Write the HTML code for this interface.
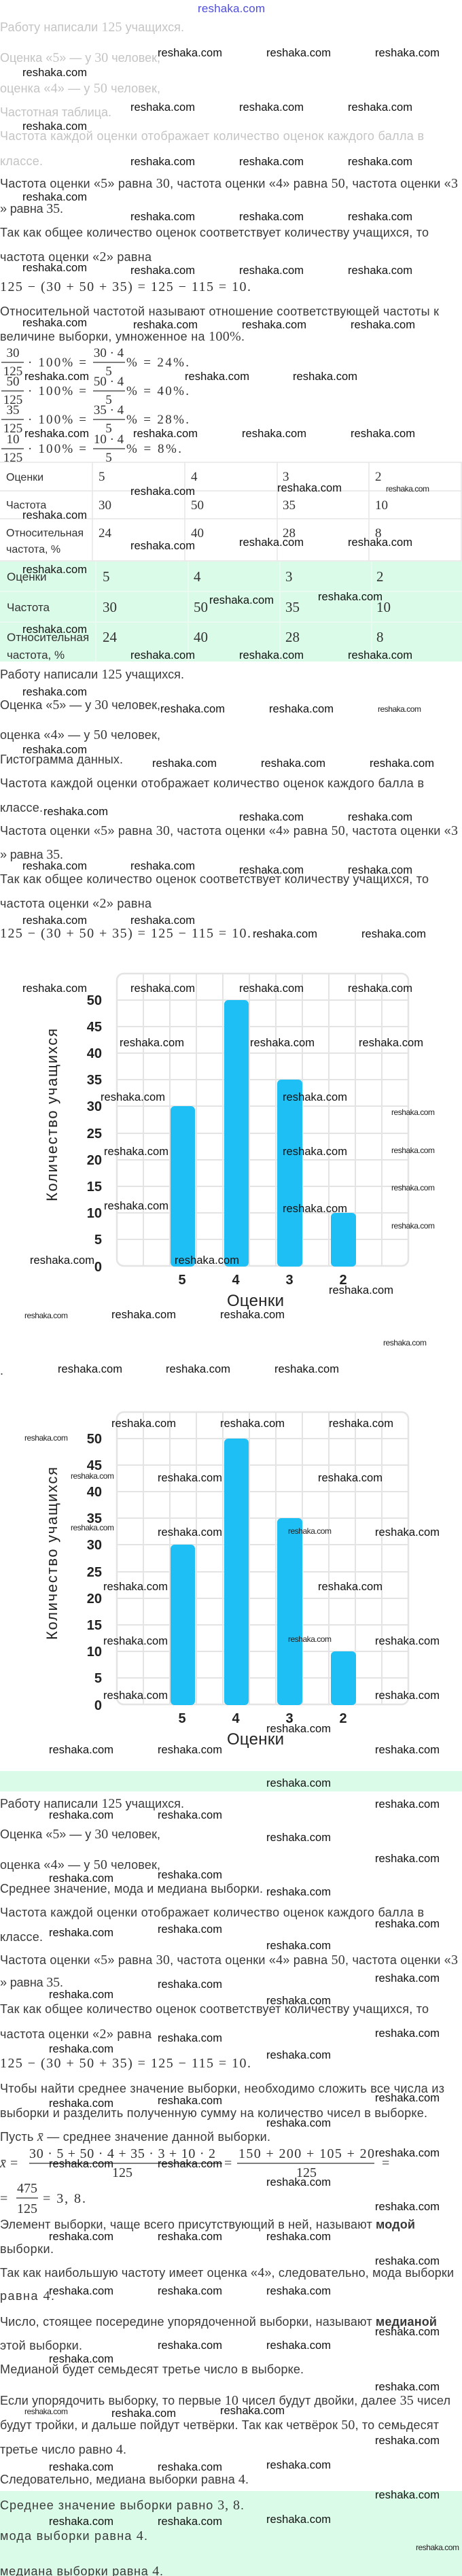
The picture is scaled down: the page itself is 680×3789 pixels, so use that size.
<!DOCTYPE html>
<html lang="ru"><head><meta charset="utf-8"><title>reshaka</title>
<style>
html,body{margin:0;padding:0;background:#fff;}
svg{display:block;}
text{font-family:"Liberation Sans","DejaVu Sans",sans-serif;}
.t{font-size:18px;fill:#3a3a3a;}
.g{fill:#c4c4c4;}
.m{font-family:"Liberation Serif","DejaVu Serif",serif;font-size:20px;}
.mf{font-family:"Liberation Serif","DejaVu Serif",serif;font-size:19px;fill:#333;}
.w{font-size:16.5px;fill:#111;}
.s{font-size:12px;fill:#222;}
.tb{font-size:16px;fill:#333;}
.tb2{font-size:17px;fill:#333;}
.tv{font-family:"Liberation Serif",serif;font-size:19px;fill:#333;}
.tv2{font-family:"Liberation Serif",serif;font-size:21px;fill:#333;}
.yl{font-size:20px;font-weight:bold;fill:#222;}
.grid line{stroke:#e4e4e4;stroke-width:2;}
</style></head>
<body>
<svg width="680" height="3789" viewBox="0 0 680 3789" xmlns="http://www.w3.org/2000/svg">
<rect x="0" y="0" width="680" height="3789" fill="#fff"/>

<!-- header -->
<text x="291" y="18" textLength="99" style="font-size:17px;fill:#4f4fd9;">reshaka.com</text>

<!-- Section 1 text -->
<text class="t g" x="0" y="46" textLength="271">Работу написали <tspan class="m">125</tspan> учащихся.</text>
<text class="t g" x="0" y="91" textLength="236">Оценка «<tspan class="m">5</tspan>» — у <tspan class="m">30</tspan> человек,</text>
<text class="t g" x="0" y="136" textLength="236">оценка «<tspan class="m">4</tspan>» — у <tspan class="m">50</tspan> человек,</text>
<text class="t g" x="0" y="171" textLength="164">Частотная таблица.</text>
<text class="t g" x="0" y="206" textLength="624">Частота каждой оценки отображает количество оценок каждого балла в</text>
<text class="t g" x="0" y="243" textLength="63">классе.</text>
<text class="t" x="0" y="276" textLength="674">Частота оценки «<tspan class="m">5</tspan>» равна <tspan class="m">30</tspan>, частота оценки «<tspan class="m">4</tspan>» равна <tspan class="m">50</tspan>, частота оценки «<tspan class="m">3</tspan></text>
<text class="t" x="0" y="313" textLength="93">» равна <tspan class="m">35</tspan>.</text>
<text class="t" x="0" y="348" textLength="631">Так как общее количество оценок соответствует количеству учащихся, то</text>
<text class="t" x="0" y="384" textLength="223">частота оценки «<tspan class="m">2</tspan>» равна</text>
<text class="m" x="0" y="428" textLength="369" style="fill:#333">125 − (30 + 50 + 35) = 125 − 115 = 10.</text>
<text class="t" x="0" y="464" textLength="646">Относительной частотой называют отношение соответствующей частоты к</text>
<text class="t" x="0" y="501" textLength="360">величине выборки, умноженное на <tspan class="m">100%</tspan>.</text>

<!-- fractions -->
<g stroke="#333" stroke-width="1.2">
<line x1="2" y1="533" x2="35" y2="533"/><line x1="137" y1="533" x2="184" y2="533"/>
<line x1="2" y1="575" x2="35" y2="575"/><line x1="137" y1="575" x2="184" y2="575"/>
<line x1="2" y1="617" x2="35" y2="617"/><line x1="137" y1="617" x2="184" y2="617"/>
<line x1="2" y1="660" x2="35" y2="660"/><line x1="137" y1="660" x2="184" y2="660"/>
</g>
<g class="mf">
<text class="mf" x="19" y="525" text-anchor="middle">30</text>
<text class="mf" x="19" y="552" text-anchor="middle">125</text>
<text class="mf" x="41" y="539" textLength="86">· 100% =</text>
<text class="mf" x="160" y="525" text-anchor="middle">30 · 4</text>
<text class="mf" x="160" y="552" text-anchor="middle">5</text>
<text class="mf" x="186" y="539" textLength="92">% = 24%.</text>

<text class="mf" x="19" y="567" text-anchor="middle">50</text>
<text class="mf" x="19" y="594" text-anchor="middle">125</text>
<text class="mf" x="41" y="581" textLength="86">· 100% =</text>
<text class="mf" x="160" y="567" text-anchor="middle">50 · 4</text>
<text class="mf" x="160" y="594" text-anchor="middle">5</text>
<text class="mf" x="186" y="581" textLength="92">% = 40%.</text>

<text class="mf" x="19" y="609" text-anchor="middle">35</text>
<text class="mf" x="19" y="636" text-anchor="middle">125</text>
<text class="mf" x="41" y="623" textLength="86">· 100% =</text>
<text class="mf" x="160" y="609" text-anchor="middle">35 · 4</text>
<text class="mf" x="160" y="636" text-anchor="middle">5</text>
<text class="mf" x="186" y="623" textLength="92">% = 28%.</text>

<text class="mf" x="19" y="652" text-anchor="middle">10</text>
<text class="mf" x="19" y="679" text-anchor="middle">125</text>
<text class="mf" x="41" y="666" textLength="86">· 100% =</text>
<text class="mf" x="160" y="652" text-anchor="middle">10 · 4</text>
<text class="mf" x="160" y="679" text-anchor="middle">5</text>
<text class="mf" x="186" y="666" textLength="81">% = 8%.</text>
</g>

<!-- Table 1 -->
<g stroke="#e6e6e6" stroke-width="1.5">
<line x1="0" y1="680" x2="680" y2="680"/>
<line x1="0" y1="722" x2="680" y2="722"/>
<line x1="0" y1="763" x2="680" y2="763"/>
<line x1="0" y1="825" x2="680" y2="825"/>
<line x1="136" y1="680" x2="136" y2="825"/>
<line x1="272" y1="680" x2="272" y2="825"/>
<line x1="408" y1="680" x2="408" y2="825"/>
<line x1="543" y1="680" x2="543" y2="825"/>
<line x1="679" y1="680" x2="679" y2="825"/>
</g>
<text class="tb" x="9" y="707">Оценки</text>
<text class="tb" x="9" y="748">Частота</text>
<text class="tb" x="9" y="789">Относительная</text>
<text class="tb" x="9" y="813">частота, %</text>
<text class="tv" x="145" y="707">5</text><text class="tv" x="281" y="707">4</text><text class="tv" x="416" y="707">3</text><text class="tv" x="552" y="707">2</text>
<text class="tv" x="145" y="749">30</text><text class="tv" x="281" y="749">50</text><text class="tv" x="416" y="749">35</text><text class="tv" x="552" y="749">10</text>
<text class="tv" x="145" y="790">24</text><text class="tv" x="281" y="790">40</text><text class="tv" x="416" y="790">28</text><text class="tv" x="552" y="790">8</text>

<!-- Table 2 green -->
<rect x="0" y="826" width="680" height="147" fill="#dbfbe9"/>
<g stroke="#eef9f2" stroke-width="1.5">
<line x1="0" y1="870" x2="680" y2="870"/>
<line x1="0" y1="915" x2="680" y2="915"/>
<line x1="141" y1="826" x2="141" y2="973"/>
<line x1="277" y1="826" x2="277" y2="973"/>
<line x1="412" y1="826" x2="412" y2="973"/>
<line x1="547" y1="826" x2="547" y2="973"/>
</g>
<text class="tb2" x="10" y="854">Оценки</text>
<text class="tb2" x="10" y="899">Частота</text>
<text class="tb2" x="10" y="943">Относительная</text>
<text class="tb2" x="10" y="969">частота, %</text>
<text class="tv2" x="151" y="855">5</text><text class="tv2" x="285" y="855">4</text><text class="tv2" x="420" y="855">3</text><text class="tv2" x="554" y="855">2</text>
<text class="tv2" x="151" y="900">30</text><text class="tv2" x="285" y="900">50</text><text class="tv2" x="420" y="900">35</text><text class="tv2" x="554" y="900">10</text>
<text class="tv2" x="151" y="944">24</text><text class="tv2" x="285" y="944">40</text><text class="tv2" x="420" y="944">28</text><text class="tv2" x="554" y="944">8</text>

<!-- Section 2 text -->
<text class="t" x="0" y="998" textLength="271">Работу написали <tspan class="m">125</tspan> учащихся.</text>
<text class="t" x="0" y="1043" textLength="236">Оценка «<tspan class="m">5</tspan>» — у <tspan class="m">30</tspan> человек,</text>
<text class="t" x="0" y="1087" textLength="236">оценка «<tspan class="m">4</tspan>» — у <tspan class="m">50</tspan> человек,</text>
<text class="t" x="0" y="1123" textLength="181">Гистограмма данных.</text>
<text class="t" x="0" y="1158" textLength="624">Частота каждой оценки отображает количество оценок каждого балла в</text>
<text class="t" x="0" y="1194" textLength="63">классе.</text>
<text class="t" x="0" y="1228" textLength="674">Частота оценки «<tspan class="m">5</tspan>» равна <tspan class="m">30</tspan>, частота оценки «<tspan class="m">4</tspan>» равна <tspan class="m">50</tspan>, частота оценки «<tspan class="m">3</tspan></text>
<text class="t" x="0" y="1263" textLength="93">» равна <tspan class="m">35</tspan>.</text>
<text class="t" x="0" y="1299" textLength="631">Так как общее количество оценок соответствует количеству учащихся, то</text>
<text class="t" x="0" y="1335" textLength="223">частота оценки «<tspan class="m">2</tspan>» равна</text>
<text class="m" x="0" y="1379" textLength="369" style="fill:#333">125 − (30 + 50 + 35) = 125 − 115 = 10.</text>

<!-- Chart 1 -->
<g id="chart1">
<rect x="172" y="1432" width="429" height="430" rx="10" fill="#fff" stroke="#e4e4e4" stroke-width="2.5"/>
<g class="grid">
<line x1="211" y1="1432" x2="211" y2="1862"/><line x1="250" y1="1432" x2="250" y2="1862"/><line x1="289" y1="1432" x2="289" y2="1862"/><line x1="328" y1="1432" x2="328" y2="1862"/><line x1="367" y1="1432" x2="367" y2="1862"/><line x1="406" y1="1432" x2="406" y2="1862"/><line x1="445" y1="1432" x2="445" y2="1862"/><line x1="484" y1="1432" x2="484" y2="1862"/><line x1="523" y1="1432" x2="523" y2="1862"/><line x1="562" y1="1432" x2="562" y2="1862"/>
<line x1="172" y1="1823" x2="601" y2="1823"/><line x1="172" y1="1784" x2="601" y2="1784"/><line x1="172" y1="1745" x2="601" y2="1745"/><line x1="172" y1="1706" x2="601" y2="1706"/><line x1="172" y1="1667" x2="601" y2="1667"/><line x1="172" y1="1627" x2="601" y2="1627"/><line x1="172" y1="1588" x2="601" y2="1588"/><line x1="172" y1="1549" x2="601" y2="1549"/><line x1="172" y1="1510" x2="601" y2="1510"/><line x1="172" y1="1471" x2="601" y2="1471"/>
</g>
<rect x="251" y="1627" width="36" height="236" rx="6" fill="#1ebff5"/>
<rect x="330" y="1471" width="36" height="392" rx="6" fill="#1ebff5"/>
<rect x="408" y="1588" width="37" height="275" rx="6" fill="#1ebff5"/>
<rect x="487" y="1784" width="37" height="79" rx="6" fill="#1ebff5"/>
<g class="yl" text-anchor="end">
<text class="yl" x="150" y="1478" text-anchor="end">50</text>
<text class="yl" x="150" y="1517" text-anchor="end">45</text>
<text class="yl" x="150" y="1556" text-anchor="end">40</text>
<text class="yl" x="150" y="1595" text-anchor="end">35</text>
<text class="yl" x="150" y="1634" text-anchor="end">30</text>
<text class="yl" x="150" y="1674" text-anchor="end">25</text>
<text class="yl" x="150" y="1713" text-anchor="end">20</text>
<text class="yl" x="150" y="1752" text-anchor="end">15</text>
<text class="yl" x="150" y="1791" text-anchor="end">10</text>
<text class="yl" x="150" y="1830" text-anchor="end">5</text>
<text class="yl" x="150" y="1870" text-anchor="end">0</text>
</g>
<text class="yl" x="268" y="1889" text-anchor="middle">5</text>
<text class="yl" x="347" y="1889" text-anchor="middle">4</text>
<text class="yl" x="426" y="1889" text-anchor="middle">3</text>
<text class="yl" x="505" y="1889" text-anchor="middle">2</text>
<text x="334" y="1921" textLength="84" style="font-size:24px;fill:#222;">Оценки</text>
<text transform="translate(84,1640) rotate(-90)" x="-127" y="0" textLength="254" style="font-size:22px;fill:#222;">Количество учащихся</text>
</g>
<text class="t" x="0" y="2022">.</text>

<!-- Chart 2 -->
<g transform="translate(0,645)">
<rect x="172" y="1432" width="429" height="430" rx="10" fill="#fff" stroke="#e4e4e4" stroke-width="2.5"/>
<g class="grid">
<line x1="211" y1="1432" x2="211" y2="1862"/><line x1="250" y1="1432" x2="250" y2="1862"/><line x1="289" y1="1432" x2="289" y2="1862"/><line x1="328" y1="1432" x2="328" y2="1862"/><line x1="367" y1="1432" x2="367" y2="1862"/><line x1="406" y1="1432" x2="406" y2="1862"/><line x1="445" y1="1432" x2="445" y2="1862"/><line x1="484" y1="1432" x2="484" y2="1862"/><line x1="523" y1="1432" x2="523" y2="1862"/><line x1="562" y1="1432" x2="562" y2="1862"/>
<line x1="172" y1="1823" x2="601" y2="1823"/><line x1="172" y1="1784" x2="601" y2="1784"/><line x1="172" y1="1745" x2="601" y2="1745"/><line x1="172" y1="1706" x2="601" y2="1706"/><line x1="172" y1="1667" x2="601" y2="1667"/><line x1="172" y1="1627" x2="601" y2="1627"/><line x1="172" y1="1588" x2="601" y2="1588"/><line x1="172" y1="1549" x2="601" y2="1549"/><line x1="172" y1="1510" x2="601" y2="1510"/><line x1="172" y1="1471" x2="601" y2="1471"/>
</g>
<rect x="251" y="1627" width="36" height="236" rx="6" fill="#1ebff5"/>
<rect x="330" y="1471" width="36" height="392" rx="6" fill="#1ebff5"/>
<rect x="408" y="1588" width="37" height="275" rx="6" fill="#1ebff5"/>
<rect x="487" y="1784" width="37" height="79" rx="6" fill="#1ebff5"/>
<text class="yl" x="150" y="1478" text-anchor="end">50</text>
<text class="yl" x="150" y="1517" text-anchor="end">45</text>
<text class="yl" x="150" y="1556" text-anchor="end">40</text>
<text class="yl" x="150" y="1595" text-anchor="end">35</text>
<text class="yl" x="150" y="1634" text-anchor="end">30</text>
<text class="yl" x="150" y="1674" text-anchor="end">25</text>
<text class="yl" x="150" y="1713" text-anchor="end">20</text>
<text class="yl" x="150" y="1752" text-anchor="end">15</text>
<text class="yl" x="150" y="1791" text-anchor="end">10</text>
<text class="yl" x="150" y="1830" text-anchor="end">5</text>
<text class="yl" x="150" y="1870" text-anchor="end">0</text>
<text class="yl" x="268" y="1889" text-anchor="middle">5</text>
<text class="yl" x="347" y="1889" text-anchor="middle">4</text>
<text class="yl" x="426" y="1889" text-anchor="middle">3</text>
<text class="yl" x="505" y="1889" text-anchor="middle">2</text>
<text x="334" y="1921" textLength="84" style="font-size:24px;fill:#222;">Оценки</text>
<text transform="translate(84,1640) rotate(-90)" x="-127" y="0" textLength="254" style="font-size:22px;fill:#222;">Количество учащихся</text>
</g>

<!-- green band -->
<rect x="0" y="2605" width="680" height="30" fill="#dbfbe9"/>

<!-- Section 3 text -->
<text class="t" x="0" y="2659" textLength="271">Работу написали <tspan class="m">125</tspan> учащихся.</text>
<text class="t" x="0" y="2704" textLength="236">Оценка «<tspan class="m">5</tspan>» — у <tspan class="m">30</tspan> человек,</text>
<text class="t" x="0" y="2749" textLength="236">оценка «<tspan class="m">4</tspan>» — у <tspan class="m">50</tspan> человек,</text>
<text class="t" x="0" y="2784" textLength="387">Среднее значение, мода и медиана выборки.</text>
<text class="t" x="0" y="2819" textLength="624">Частота каждой оценки отображает количество оценок каждого балла в</text>
<text class="t" x="0" y="2855" textLength="63">классе.</text>
<text class="t" x="0" y="2889" textLength="674">Частота оценки «<tspan class="m">5</tspan>» равна <tspan class="m">30</tspan>, частота оценки «<tspan class="m">4</tspan>» равна <tspan class="m">50</tspan>, частота оценки «<tspan class="m">3</tspan></text>
<text class="t" x="0" y="2922" textLength="93">» равна <tspan class="m">35</tspan>.</text>
<text class="t" x="0" y="2961" textLength="631">Так как общее количество оценок соответствует количеству учащихся, то</text>
<text class="t" x="0" y="2998" textLength="223">частота оценки «<tspan class="m">2</tspan>» равна</text>
<text class="m" x="0" y="3041" textLength="369" style="fill:#333">125 − (30 + 50 + 35) = 125 − 115 = 10.</text>
<text class="t" x="0" y="3078" textLength="654">Чтобы найти среднее значение выборки, необходимо сложить все числа из</text>
<text class="t" x="0" y="3114" textLength="629">выборки и разделить полученную сумму на количество чисел в выборке.</text>
<text class="t" x="0" y="3149" textLength="398">Пусть <tspan class="m" style="font-style:italic">x̄</tspan> — среднее значение данной выборки.</text>

<!-- mean formula -->
<g stroke="#333" stroke-width="1.2">
<line x1="43" y1="3182" x2="327" y2="3182"/>
<line x1="349" y1="3182" x2="551" y2="3182"/>
<line x1="24" y1="3233" x2="56" y2="3233"/>
</g>
<text class="mf" x="0" y="3188" style="font-style:italic;font-size:20px">x̄</text>
<text class="mf" x="15" y="3188" style="font-size:20px">=</text>
<text class="mf" x="43" y="3174" textLength="274" style="font-size:20px">30 · 5 + 50 · 4 + 35 · 3 + 10 · 2</text>
<text class="mf" x="180" y="3202" text-anchor="middle" style="font-size:20px">125</text>
<text class="mf" x="330" y="3188" style="font-size:20px">=</text>
<text class="mf" x="351" y="3174" textLength="200" style="font-size:20px">150 + 200 + 105 + 20</text>
<text class="mf" x="451" y="3202" text-anchor="middle" style="font-size:20px">125</text>
<text class="mf" x="562" y="3188" style="font-size:20px">=</text>
<text class="mf" x="0" y="3240" style="font-size:20px">=</text>
<text class="mf" x="40" y="3225" text-anchor="middle" style="font-size:20px">475</text>
<text class="mf" x="40" y="3255" text-anchor="middle" style="font-size:20px">125</text>
<text class="mf" x="63" y="3240" textLength="63" style="font-size:20px">= 3, 8.</text>

<text class="t" x="0" y="3278" textLength="611">Элемент выборки, чаще всего присутствующий в ней, называют <tspan font-weight="bold">модой</tspan></text>
<text class="t" x="0" y="3314" textLength="79">выборки.</text>
<text class="t" x="0" y="3349" textLength="668">Так как наибольшую частоту имеет оценка «<tspan class="m">4</tspan>», следовательно, мода выборки</text>
<text class="t" x="0" y="3383" textLength="80">равна <tspan class="m">4</tspan>.</text>
<text class="t" x="0" y="3421" textLength="643">Число, стоящее посередине упорядоченной выборки, называют <tspan font-weight="bold">медианой</tspan></text>
<text class="t" x="0" y="3456" textLength="121">этой выборки.</text>
<text class="t" x="0" y="3491" textLength="447">Медианой будет семьдесят третье число в выборке.</text>
<text class="t" x="0" y="3537" textLength="663">Если упорядочить выборку, то первые <tspan class="m">10</tspan> чисел будут двойки, далее <tspan class="m">35</tspan> чисел</text>
<text class="t" x="0" y="3573" textLength="646">будут тройки, и дальше пойдут четвёрки. Так как четвёрок <tspan class="m">50</tspan>, то семьдесят</text>
<text class="t" x="0" y="3609" textLength="186">третье число равно <tspan class="m">4</tspan>.</text>
<text class="t" x="0" y="3653" textLength="366">Следовательно, медиана выборки равна <tspan class="m">4</tspan>.</text>

<rect x="0" y="3664" width="680" height="125" fill="#dbfbe9"/>
<text class="t" x="0" y="3691" textLength="359">Среднее значение выборки равно <tspan class="m">3, 8</tspan>.</text>
<text class="t" x="0" y="3736" textLength="217">мода выборки равна <tspan class="m">4</tspan>.</text>
<text class="t" x="0" y="3788" textLength="240">медиана выборки равна <tspan class="m">4</tspan>.</text>

<!-- watermarks large -->
<g>
<text class="w" x="232" y="83" textLength="95">reshaka.com</text>
<text class="w" x="392" y="83" textLength="95">reshaka.com</text>
<text class="w" x="552" y="83" textLength="95">reshaka.com</text>
<text class="w" x="33" y="112" textLength="95">reshaka.com</text>
<text class="w" x="192" y="163" textLength="95">reshaka.com</text>
<text class="w" x="352" y="163" textLength="95">reshaka.com</text>
<text class="w" x="512" y="163" textLength="95">reshaka.com</text>
<text class="w" x="33" y="191" textLength="95">reshaka.com</text>
<text class="w" x="192" y="243" textLength="95">reshaka.com</text>
<text class="w" x="352" y="243" textLength="95">reshaka.com</text>
<text class="w" x="512" y="243" textLength="95">reshaka.com</text>
<text class="w" x="33" y="295" textLength="95">reshaka.com</text>
<text class="w" x="192" y="324" textLength="95">reshaka.com</text>
<text class="w" x="352" y="324" textLength="95">reshaka.com</text>
<text class="w" x="512" y="324" textLength="95">reshaka.com</text>
<text class="w" x="33" y="399" textLength="95">reshaka.com</text>
<text class="w" x="192" y="403" textLength="95">reshaka.com</text>
<text class="w" x="352" y="403" textLength="95">reshaka.com</text>
<text class="w" x="512" y="403" textLength="95">reshaka.com</text>
<text class="w" x="33" y="480" textLength="95">reshaka.com</text>
<text class="w" x="196" y="483" textLength="95">reshaka.com</text>
<text class="w" x="356" y="483" textLength="95">reshaka.com</text>
<text class="w" x="516" y="483" textLength="95">reshaka.com</text>
<text class="w" x="36" y="559" textLength="95">reshaka.com</text>
<text class="w" x="272" y="559" textLength="95">reshaka.com</text>
<text class="w" x="431" y="559" textLength="95">reshaka.com</text>
<text class="w" x="36" y="643" textLength="95">reshaka.com</text>
<text class="w" x="196" y="643" textLength="95">reshaka.com</text>
<text class="w" x="356" y="643" textLength="95">reshaka.com</text>
<text class="w" x="516" y="643" textLength="95">reshaka.com</text>
<text class="w" x="192" y="728" textLength="95">reshaka.com</text>
<text class="w" x="408" y="723" textLength="95">reshaka.com</text>
<text class="w" x="33" y="763" textLength="95">reshaka.com</text>
<text class="w" x="192" y="808" textLength="95">reshaka.com</text>
<text class="w" x="352" y="803" textLength="95">reshaka.com</text>
<text class="w" x="512" y="803" textLength="95">reshaka.com</text>
<text class="w" x="33" y="843" textLength="95">reshaka.com</text>
<text class="w" x="308" y="888" textLength="95">reshaka.com</text>
<text class="w" x="468" y="883" textLength="95">reshaka.com</text>
<text class="w" x="33" y="931" textLength="95">reshaka.com</text>
<text class="w" x="192" y="969" textLength="95">reshaka.com</text>
<text class="w" x="352" y="969" textLength="95">reshaka.com</text>
<text class="w" x="512" y="969" textLength="95">reshaka.com</text>
<text class="w" x="33" y="1023" textLength="95">reshaka.com</text>
<text class="w" x="236" y="1048" textLength="95">reshaka.com</text>
<text class="w" x="396" y="1048" textLength="95">reshaka.com</text>
<text class="w" x="33" y="1108" textLength="95">reshaka.com</text>
<text class="w" x="224" y="1128" textLength="95">reshaka.com</text>
<text class="w" x="384" y="1128" textLength="95">reshaka.com</text>
<text class="w" x="544" y="1128" textLength="95">reshaka.com</text>
<text class="w" x="64" y="1199" textLength="95">reshaka.com</text>
<text class="w" x="352" y="1207" textLength="95">reshaka.com</text>
<text class="w" x="512" y="1207" textLength="95">reshaka.com</text>
<text class="w" x="33" y="1279" textLength="95">reshaka.com</text>
<text class="w" x="192" y="1279" textLength="95">reshaka.com</text>
<text class="w" x="352" y="1285" textLength="95">reshaka.com</text>
<text class="w" x="512" y="1285" textLength="95">reshaka.com</text>
<text class="w" x="33" y="1359" textLength="95">reshaka.com</text>
<text class="w" x="192" y="1359" textLength="95">reshaka.com</text>
<text class="w" x="372" y="1379" textLength="95">reshaka.com</text>
<text class="w" x="532" y="1379" textLength="95">reshaka.com</text>
<text class="w" x="33" y="1459" textLength="95">reshaka.com</text>
<text class="w" x="192" y="1459" textLength="95">reshaka.com</text>
<text class="w" x="352" y="1459" textLength="95">reshaka.com</text>
<text class="w" x="512" y="1459" textLength="95">reshaka.com</text>
<text class="w" x="176" y="1539" textLength="95">reshaka.com</text>
<text class="w" x="368" y="1539" textLength="95">reshaka.com</text>
<text class="w" x="528" y="1539" textLength="95">reshaka.com</text>
<text class="w" x="148" y="1619" textLength="95">reshaka.com</text>
<text class="w" x="416" y="1619" textLength="95">reshaka.com</text>
<text class="w" x="153" y="1699" textLength="95">reshaka.com</text>
<text class="w" x="416" y="1699" textLength="95">reshaka.com</text>
<text class="w" x="153" y="1779" textLength="95">reshaka.com</text>
<text class="w" x="416" y="1783" textLength="95">reshaka.com</text>
<text class="w" x="44" y="1859" textLength="95">reshaka.com</text>
<text class="w" x="257" y="1859" textLength="95">reshaka.com</text>
<text class="w" x="484" y="1903" textLength="95">reshaka.com</text>
<text class="w" x="164" y="1939" textLength="95">reshaka.com</text>
<text class="w" x="324" y="1939" textLength="95">reshaka.com</text>
<text class="w" x="85" y="2019" textLength="95">reshaka.com</text>
<text class="w" x="244" y="2019" textLength="95">reshaka.com</text>
<text class="w" x="404" y="2019" textLength="95">reshaka.com</text>
<text class="w" x="164" y="2099" textLength="95">reshaka.com</text>
<text class="w" x="324" y="2099" textLength="95">reshaka.com</text>
<text class="w" x="484" y="2099" textLength="95">reshaka.com</text>
<text class="w" x="232" y="2179" textLength="95">reshaka.com</text>
<text class="w" x="468" y="2179" textLength="95">reshaka.com</text>
<text class="w" x="232" y="2259" textLength="95">reshaka.com</text>
<text class="w" x="552" y="2259" textLength="95">reshaka.com</text>
<text class="w" x="152" y="2339" textLength="95">reshaka.com</text>
<text class="w" x="468" y="2339" textLength="95">reshaka.com</text>
<text class="w" x="152" y="2419" textLength="95">reshaka.com</text>
<text class="w" x="552" y="2419" textLength="95">reshaka.com</text>
<text class="w" x="152" y="2499" textLength="95">reshaka.com</text>
<text class="w" x="552" y="2499" textLength="95">reshaka.com</text>
<text class="w" x="392" y="2548" textLength="95">reshaka.com</text>
<text class="w" x="72" y="2579" textLength="95">reshaka.com</text>
<text class="w" x="232" y="2579" textLength="95">reshaka.com</text>
<text class="w" x="552" y="2579" textLength="95">reshaka.com</text>
<text class="w" x="392" y="2628" textLength="95">reshaka.com</text>
<text class="w" x="552" y="2659" textLength="95">reshaka.com</text>
<text class="w" x="72" y="2675" textLength="95">reshaka.com</text>
<text class="w" x="232" y="2675" textLength="95">reshaka.com</text>
<text class="w" x="392" y="2708" textLength="95">reshaka.com</text>
<text class="w" x="552" y="2739" textLength="95">reshaka.com</text>
<text class="w" x="72" y="2768" textLength="95">reshaka.com</text>
<text class="w" x="232" y="2763" textLength="95">reshaka.com</text>
<text class="w" x="392" y="2788" textLength="95">reshaka.com</text>
<text class="w" x="552" y="2835" textLength="95">reshaka.com</text>
<text class="w" x="72" y="2848" textLength="95">reshaka.com</text>
<text class="w" x="232" y="2843" textLength="95">reshaka.com</text>
<text class="w" x="392" y="2867" textLength="95">reshaka.com</text>
<text class="w" x="552" y="2915" textLength="95">reshaka.com</text>
<text class="w" x="232" y="2924" textLength="95">reshaka.com</text>
<text class="w" x="72" y="2939" textLength="95">reshaka.com</text>
<text class="w" x="392" y="2948" textLength="95">reshaka.com</text>
<text class="w" x="232" y="3003" textLength="95">reshaka.com</text>
<text class="w" x="552" y="2996" textLength="95">reshaka.com</text>
<text class="w" x="72" y="3019" textLength="95">reshaka.com</text>
<text class="w" x="392" y="3028" textLength="95">reshaka.com</text>
<text class="w" x="552" y="3091" textLength="95">reshaka.com</text>
<text class="w" x="72" y="3099" textLength="95">reshaka.com</text>
<text class="w" x="232" y="3095" textLength="95">reshaka.com</text>
<text class="w" x="392" y="3128" textLength="95">reshaka.com</text>
<text class="w" x="552" y="3172" textLength="95">reshaka.com</text>
<text class="w" x="72" y="3188" textLength="95">reshaka.com</text>
<text class="w" x="232" y="3188" textLength="95">reshaka.com</text>
<text class="w" x="392" y="3215" textLength="95">reshaka.com</text>
<text class="w" x="552" y="3251" textLength="95">reshaka.com</text>
<text class="w" x="72" y="3295" textLength="95">reshaka.com</text>
<text class="w" x="232" y="3295" textLength="95">reshaka.com</text>
<text class="w" x="392" y="3295" textLength="95">reshaka.com</text>
<text class="w" x="552" y="3331" textLength="95">reshaka.com</text>
<text class="w" x="72" y="3375" textLength="95">reshaka.com</text>
<text class="w" x="232" y="3375" textLength="95">reshaka.com</text>
<text class="w" x="392" y="3375" textLength="95">reshaka.com</text>
<text class="w" x="552" y="3435" textLength="95">reshaka.com</text>
<text class="w" x="232" y="3455" textLength="95">reshaka.com</text>
<text class="w" x="392" y="3455" textLength="95">reshaka.com</text>
<text class="w" x="72" y="3475" textLength="95">reshaka.com</text>
<text class="w" x="552" y="3516" textLength="95">reshaka.com</text>
<text class="w" x="164" y="3555" textLength="95">reshaka.com</text>
<text class="w" x="324" y="3551" textLength="95">reshaka.com</text>
<text class="w" x="552" y="3595" textLength="95">reshaka.com</text>
<text class="w" x="72" y="3634" textLength="95">reshaka.com</text>
<text class="w" x="232" y="3634" textLength="95">reshaka.com</text>
<text class="w" x="392" y="3631" textLength="95">reshaka.com</text>
<text class="w" x="552" y="3675" textLength="95">reshaka.com</text>
<text class="w" x="72" y="3714" textLength="95">reshaka.com</text>
<text class="w" x="232" y="3714" textLength="95">reshaka.com</text>
<text class="w" x="392" y="3711" textLength="95">reshaka.com</text>
</g>
<!-- watermarks small -->
<g>
<text class="s" x="568" y="723" textLength="64">reshaka.com</text>
<text class="s" x="556" y="1047" textLength="64">reshaka.com</text>
<text class="s" x="576" y="1640" textLength="64">reshaka.com</text>
<text class="s" x="576" y="1696" textLength="64">reshaka.com</text>
<text class="s" x="576" y="1751" textLength="64">reshaka.com</text>
<text class="s" x="576" y="1807" textLength="64">reshaka.com</text>
<text class="s" x="36" y="1939" textLength="64">reshaka.com</text>
<text class="s" x="564" y="1979" textLength="64">reshaka.com</text>
<text class="s" x="36" y="2119" textLength="64">reshaka.com</text>
<text class="s" x="104" y="2175" textLength="64">reshaka.com</text>
<text class="s" x="104" y="2251" textLength="64">reshaka.com</text>
<text class="s" x="424" y="2256" textLength="64">reshaka.com</text>
<text class="s" x="424" y="2415" textLength="64">reshaka.com</text>
<text class="s" x="36" y="3551" textLength="64">reshaka.com</text>
<text class="s" x="612" y="3751" textLength="64">reshaka.com</text>
</g>
</svg>
</body></html>
